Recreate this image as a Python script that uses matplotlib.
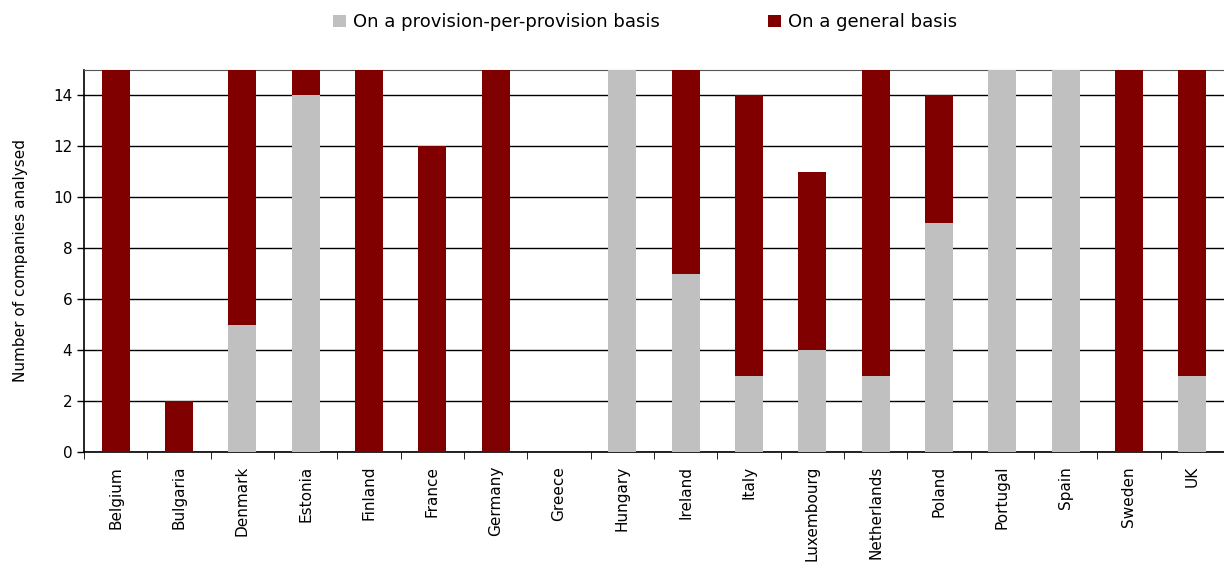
import matplotlib
matplotlib.use("Agg")
import matplotlib.pyplot as plt
import numpy as np
from matplotlib.patches import Patch

countries = ["Belgium", "Bulgaria", "Denmark", "Estonia", "Finland", "France", "Germany",
             "Greece", "Hungary", "Ireland", "Italy", "Luxembourg", "Netherlands", "Poland",
             "Portugal", "Spain", "Sweden", "UK"]
provision = [0, 0, 5, 14, 0, 0, 0, 0, 15, 7, 3, 4, 3, 9, 15, 15, 0, 3]
general = [15, 2, 10, 1, 15, 12, 15, 0, 0, 8, 11, 7, 12, 5, 0, 0, 15, 12]
series_labels = ["On a provision-per-provision basis", "On a general basis"]
yticks = [0, 2, 4, 6, 8, 10, 12, 14]

GREY = "#C0C0C0"
RED = "#800000"

fig = plt.figure(figsize=(12.24, 5.72), dpi=100)
ax = fig.add_axes([84/1224, 1 - 452/572, 1 - 84/1224, (452 - 70)/572])

x = np.arange(len(countries))
w = 0.44
ax.bar(x, provision, width=w, color=GREY, zorder=3)
ax.bar(x, general, width=w, bottom=provision, color=RED, zorder=3)

ax.set_xlim(-0.5, len(countries) - 0.5)
ax.set_ylim(0, 15)
ax.set_yticks(yticks)
ax.set_yticklabels([str(v) for v in yticks], fontsize=11)
ax.yaxis.grid(True, color="black", linewidth=1.0, zorder=0)
ax.set_axisbelow(True)

ax.set_xticks(x)
ax.set_xticklabels(countries, rotation=90, fontsize=11)
ax.tick_params(axis="x", length=0, pad=10)
ax.set_xticks(np.arange(len(countries) + 1) - 0.5, minor=True)
ax.tick_params(axis="x", which="minor", length=5, direction="out", color="black")
ax.tick_params(axis="y", length=5, direction="out", width=1)

ax.spines["right"].set_visible(False)
ax.spines["top"].set_color("#555555")
ax.spines["top"].set_linewidth(0.8)
ax.spines["left"].set_linewidth(1.2)
ax.spines["bottom"].set_linewidth(1.2)

ax.set_ylabel("Number of companies analysed", fontsize=11, labelpad=18)

handles = [Patch(facecolor=GREY, label=series_labels[0]),
           Patch(facecolor=RED, label=series_labels[1])]
fig.legend(handles=handles, loc="upper center", bbox_to_anchor=(0.527, 1.005), ncol=2,
           frameon=False, fontsize=13, handlelength=0.7, handleheight=0.7,
           handletextpad=0.4, columnspacing=6.0)

fig.savefig("out.png", dpi=100)
